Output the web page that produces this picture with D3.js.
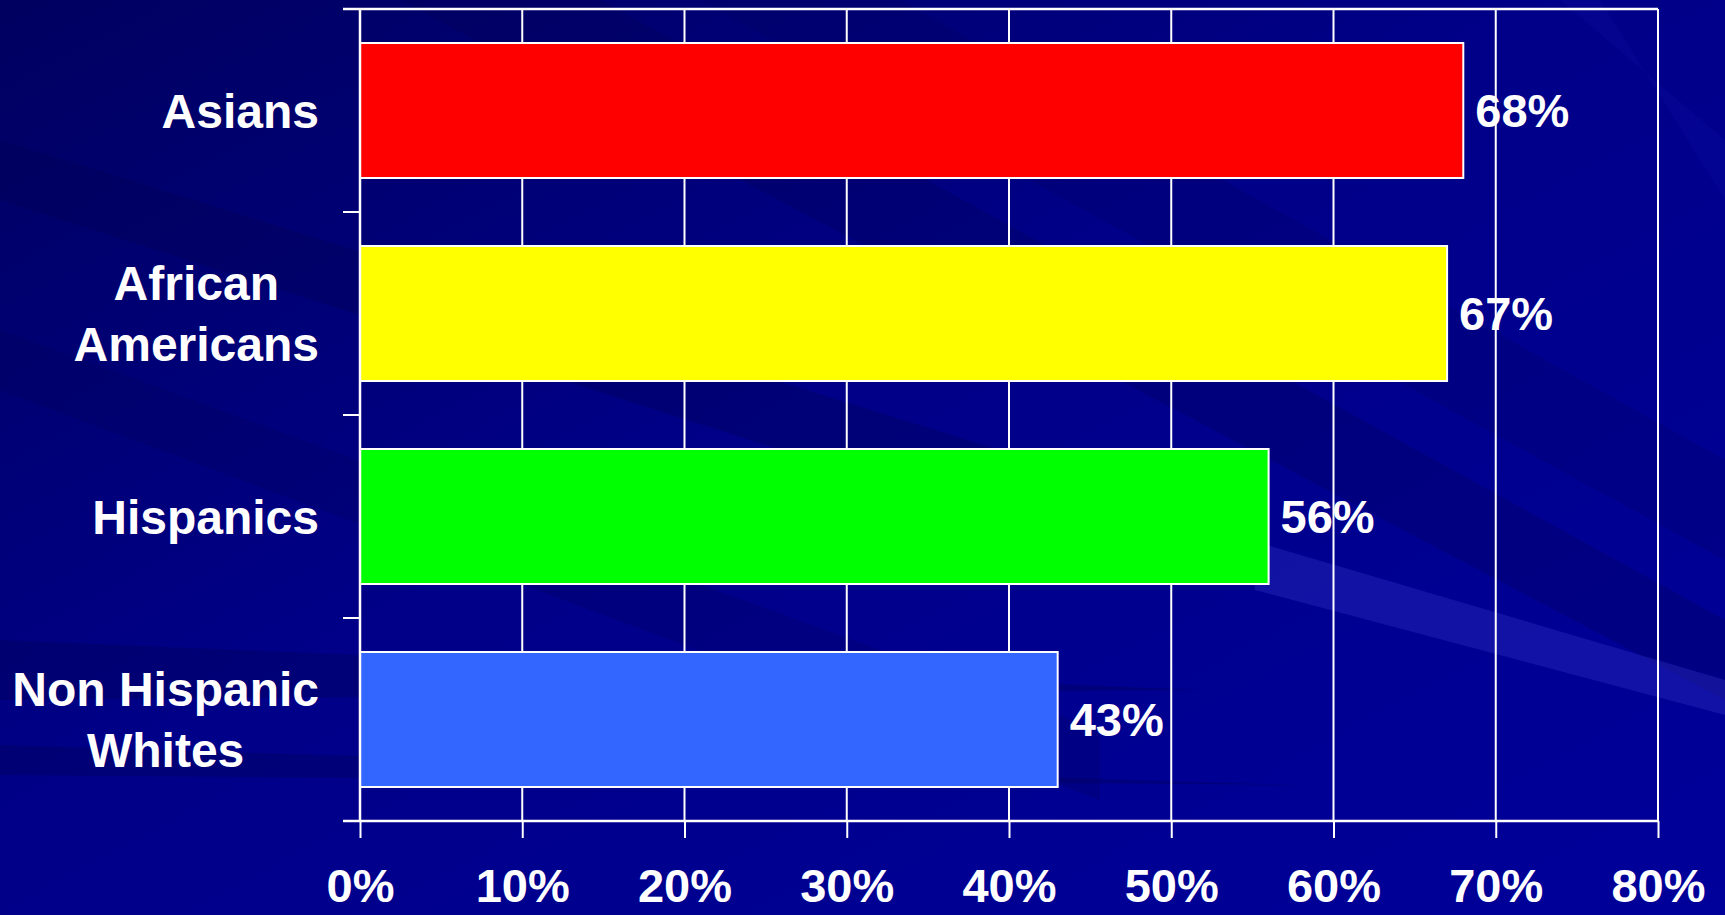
<!DOCTYPE html>
<html>
<head>
<meta charset="utf-8">
<script src="https://cdn.jsdelivr.net/npm/d3@7/dist/d3.min.js"></script>
<style>
  html, body { margin: 0; padding: 0; background: #000080; overflow: hidden; }
  svg { display: block; }
  text { font-family: "Liberation Sans", Arial, sans-serif; font-weight: bold; fill: #ffffff; }
</style>
</head>
<body>
<svg id="chart" width="1725" height="915"></svg>
<script>
// ---- Data ----
const categories = ["Asians", "African Americans", "Hispanics", "Non Hispanic Whites"];
const labelLines = [["Asians"], ["African", "Americans"], ["Hispanics"], ["Non Hispanic", "Whites"]];
const values = [0.68, 0.67, 0.56, 0.43];
const valueLabels = ["68%", "67%", "56%", "43%"];
const barColors = ["#ff0000", "#ffff00", "#00ff00", "#3366ff"];
const xTicks = [0, 0.1, 0.2, 0.3, 0.4, 0.5, 0.6, 0.7, 0.8];
const xTickLabels = ["0%", "10%", "20%", "30%", "40%", "50%", "60%", "70%", "80%"];

(function () {
const W = 1725, H = 915;
const svg = d3.select("#chart");

// ---- Background ----
const defs = svg.append("defs");
const bg = defs.append("linearGradient").attr("id", "bg")
  .attr("x1", "0").attr("y1", "0").attr("x2", "1").attr("y2", "1");
bg.append("stop").attr("offset", "0").attr("stop-color", "#000060");
bg.append("stop").attr("offset", "0.45").attr("stop-color", "#000088");
bg.append("stop").attr("offset", "1").attr("stop-color", "#00009a");
svg.append("rect").attr("width", W).attr("height", H).attr("fill", "url(#bg)");

const streaks = [
  {pts: [[0, 140], [0, 200], [1000, 520], [1000, 450]], c: "#000050", o: 0.3},
  {pts: [[0, 330], [0, 390], [1100, 800], [1100, 730]], c: "#000050", o: 0.2},
  {pts: [[400, 0], [600, 0], [1725, 620], [1725, 700]], c: "#000050", o: 0.25},
  {pts: [[700, 0], [900, 0], [1725, 460], [1725, 560]], c: "#000058", o: 0.2},
  {pts: [[1250, 540], [1255, 590], [1725, 715], [1725, 680]], c: "#3b3bd0", o: 0.3},
  {pts: [[0, 745], [0, 775], [1300, 785]], c: "#000050", o: 0.3},
  {pts: [[0, 640], [0, 700], [1200, 690]], c: "#000050", o: 0.3},
  {pts: [[1560, 0], [1600, 0], [1725, 200], [1725, 140]], c: "#1a1ab8", o: 0.15}
];
svg.append("g").selectAll("polygon").data(streaks).join("polygon")
  .attr("points", d => d.pts.map(p => p.join(",")).join(" "))
  .attr("fill", d => d.c).attr("opacity", d => d.o);

// ---- Scales ----
const pLeft = 360, pRight = 1658, pTop = 9, pBottom = 821;
const x = d3.scaleLinear().domain([0, 0.8]).range([pLeft, pRight]);
const y = d3.scaleBand().domain(categories).range([pTop, pBottom])
  .paddingInner(0.335).paddingOuter(0.1675);

const g = svg.append("g");

// Gridlines (vertical)
g.append("g").selectAll("line").data(xTicks).join("line")
  .attr("x1", d => x(d)).attr("x2", d => x(d))
  .attr("y1", pTop).attr("y2", pBottom)
  .attr("stroke", "#ffffff").attr("stroke-width", 2);

// Top frame line
g.append("line").attr("x1", pLeft - 17).attr("x2", x(0.8)).attr("y1", pTop).attr("y2", pTop)
  .attr("stroke", "#ffffff").attr("stroke-width", 2.5);

// Bars
g.append("g").selectAll("rect").data(categories).join("rect")
  .attr("x", x(0))
  .attr("y", d => y(d))
  .attr("width", (d, i) => x(values[i]) - x(0))
  .attr("height", y.bandwidth())
  .attr("fill", (d, i) => barColors[i])
  .attr("stroke", "#ffffff").attr("stroke-width", 2);

// Category boundary ticks on y axis
const boundaries = categories.map(c => y(c) - y.step() * y.paddingInner() / 2).concat([pBottom]);
g.append("g").selectAll("line").data(boundaries).join("line")
  .attr("x1", pLeft - 17).attr("x2", pLeft)
  .attr("y1", d => d).attr("y2", d => d)
  .attr("stroke", "#ffffff").attr("stroke-width", 2);

// Y axis line
g.append("line").attr("x1", pLeft).attr("x2", pLeft).attr("y1", pTop).attr("y2", pBottom)
  .attr("stroke", "#ffffff").attr("stroke-width", 2.5);

// X axis
const xAxis = d3.axisBottom(x).tickValues(xTicks)
  .tickFormat((d, i) => xTickLabels[i])
  .tickSize(17).tickSizeOuter(0).tickPadding(31);
const ax = g.append("g").attr("transform", `translate(0,${pBottom})`).call(xAxis);
ax.select(".domain").attr("stroke", "#ffffff").attr("stroke-width", 2.5)
  .attr("d", `M${pLeft - 17},0H${pRight}`);
ax.selectAll(".tick line").attr("stroke", "#ffffff").attr("stroke-width", 2);
ax.selectAll(".tick text").attr("fill", "#ffffff")
  .style("font-size", "47px").style("font-family", "'Liberation Sans', Arial, sans-serif")
  .style("font-weight", "bold");

// Value labels
g.append("g").selectAll("text").data(categories).join("text")
  .attr("x", (d, i) => x(values[i]) + 12)
  .attr("y", d => y(d) + y.bandwidth() / 2)
  .attr("dy", "0.36em")
  .style("font-size", "47px")
  .text((d, i) => valueLabels[i]);

// Category labels (multi-line, centered block, right edge at 319)
const labelRight = 319, lineH = 61;
const lg = g.append("g");
categories.forEach((c, i) => {
  const lines = labelLines[i];
  const t = lg.append("text").style("font-size", "48px").attr("text-anchor", "middle");
  const cy = y(c) + y.bandwidth() / 2;
  const y0 = cy - (lines.length - 1) * lineH / 2;
  lines.forEach((ln, j) => {
    t.append("tspan").attr("x", 0).attr("y", y0 + j * lineH).attr("dy", "0.36em").text(ln);
  });
  let maxW = 0;
  t.selectAll("tspan").each(function () { maxW = Math.max(maxW, this.getComputedTextLength()); });
  t.selectAll("tspan").attr("x", labelRight - maxW / 2);
});
})();
</script>
</body>
</html>
